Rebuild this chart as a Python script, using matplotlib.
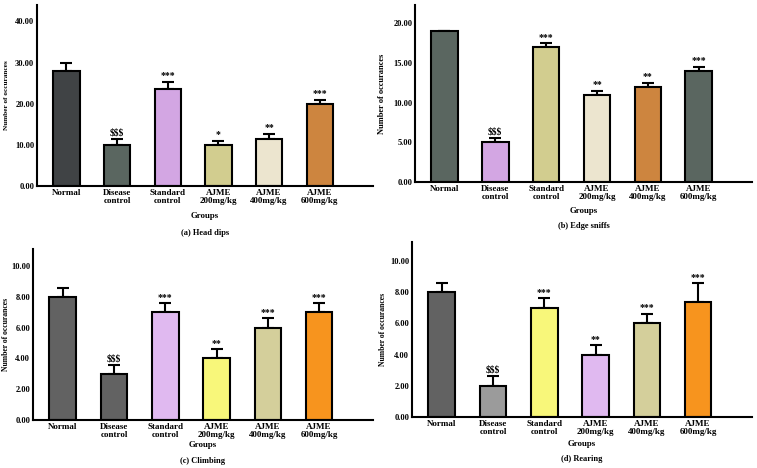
import matplotlib
matplotlib.use("Agg")
import matplotlib.pyplot as plt
import numpy as np

plt.rcParams['font.family'] = 'Liberation Serif'
plt.rcParams['font.weight'] = 'bold'

groups = ["Normal", "Disease\ncontrol", "Standard\ncontrol",
          "AJME\n200mg/kg", "AJME\n400mg/kg", "AJME\n600mg/kg"]

# (a) Head dips
head_mean = [28.0, 10.0, 23.7, 10.0, 11.4, 20.0]
head_err = [2.0, 1.5, 1.6, 1.0, 1.3, 1.0]
head_sig = ["", "$$$", "***", "*", "**", "***"]
head_col = ["#404345", "#5a6660", "#d3a6e3", "#d2cd8f", "#ece5cf", "#cd853f"]

# (b) Edge sniffs
edge_mean = [19.0, 5.0, 17.0, 11.0, 12.0, 14.0]
edge_err = [0.0, 0.6, 0.5, 0.5, 0.5, 0.5]
edge_sig = ["", "$$$", "***", "**", "**", "***"]
edge_col = ["#5a6660", "#d3a6e3", "#d2cd8f", "#ece5cf", "#cd853f", "#5a6660"]

# (c) Climbing
climb_mean = [8.0, 3.0, 7.0, 4.0, 6.0, 7.0]
climb_err = [0.6, 0.6, 0.6, 0.6, 0.6, 0.6]
climb_sig = ["", "$$$", "***", "**", "***", "***"]
climb_col = ["#626262", "#626262", "#e0b9f0", "#f8f77a", "#d4cf9b", "#f7941e"]

# (d) Rearing
rear_mean = [8.0, 2.0, 7.0, 4.0, 6.0, 7.35]
rear_err = [0.6, 0.6, 0.6, 0.6, 0.6, 1.2]
rear_sig = ["", "$$$", "***", "**", "***", "***"]
rear_col = ["#626262", "#9b9b9b", "#f8f77a", "#e0b9f0", "#d4cf9b", "#f7941e"]

W, H = 757, 468
fig = plt.figure(figsize=(W / 100, H / 100), dpi=100)


def px_axes(left, right, top, bottom):
    return fig.add_axes([left / W, 1 - bottom / H, (right - left) / W, (bottom - top) / H])


def panel(box, means, errs, sigs, cols, ymax, ystep, title, grp_y, title_y, ylab_x, ylab_fs):
    ax = px_axes(*box)
    x = np.arange(len(means))
    lower = np.zeros(len(means))
    ax.bar(x, means, width=0.52, color=cols, edgecolor="black", linewidth=1.5, zorder=2)
    ax.errorbar(x, means, yerr=[lower, errs], fmt="none", ecolor="black",
                elinewidth=1.5, capsize=4.5, capthick=1.5, zorder=1)
    for xi, m, e, s in zip(x, means, errs, sigs):
        if s:
            ax.text(xi, m + e + ymax * 0.008, s, ha="center", va="bottom",
                    fontsize=7, fontweight="bold")
    ax.set_xlim(-0.58, 6.05)
    ax.set_ylim(0, ymax)
    ticks = np.arange(0, ymax, ystep)
    ax.set_yticks(ticks)
    ax.set_yticklabels([f"{v:.2f}" for v in ticks])
    ax.set_xticks(x)
    ax.set_xticklabels(groups, fontsize=6.5, fontweight="bold", linespacing=1.0)
    ax.tick_params(axis="both", length=0, pad=2)
    ax.tick_params(axis="y", labelsize=6)
    for lab in ax.get_yticklabels():
        lab.set_fontweight("bold")
    for sp in ["top", "right"]:
        ax.spines[sp].set_visible(False)
    for sp in ["left", "bottom"]:
        ax.spines[sp].set_linewidth(1.5)
    ax.set_ylabel("Number of occurances", fontsize=ylab_fs, fontweight="bold")
    ax.yaxis.set_label_coords((ylab_x - box[0]) / (box[1] - box[0]), 0.5)
    cx = (box[0] + box[1]) / 2
    fig.text(cx / W, 1 - grp_y / H, "Groups", ha="center", va="center",
             fontsize=6.3, fontweight="bold")
    fig.text(cx / W, 1 - title_y / H, title, ha="center", va="center",
             fontsize=6, fontweight="bold")
    return ax


panel((37, 373, 5, 186), head_mean, head_err, head_sig, head_col, 44, 10,
      "(a) Head dips", 216, 233, 9, 5.2)
panel((415, 752, 5, 182), edge_mean, edge_err, edge_sig, edge_col, 22.3, 5,
      "(b) Edge sniffs", 211, 226, 386, 6)
panel((33, 373, 249, 420), climb_mean, climb_err, climb_sig, climb_col, 11.1, 2,
      "(c) Climbing", 445, 461, 10, 5.5)
panel((412, 752, 242, 417), rear_mean, rear_err, rear_sig, rear_col, 11.2, 2,
      "(d) Rearing", 444, 459, 387, 5.5)

fig.savefig("out.png", dpi=100)
